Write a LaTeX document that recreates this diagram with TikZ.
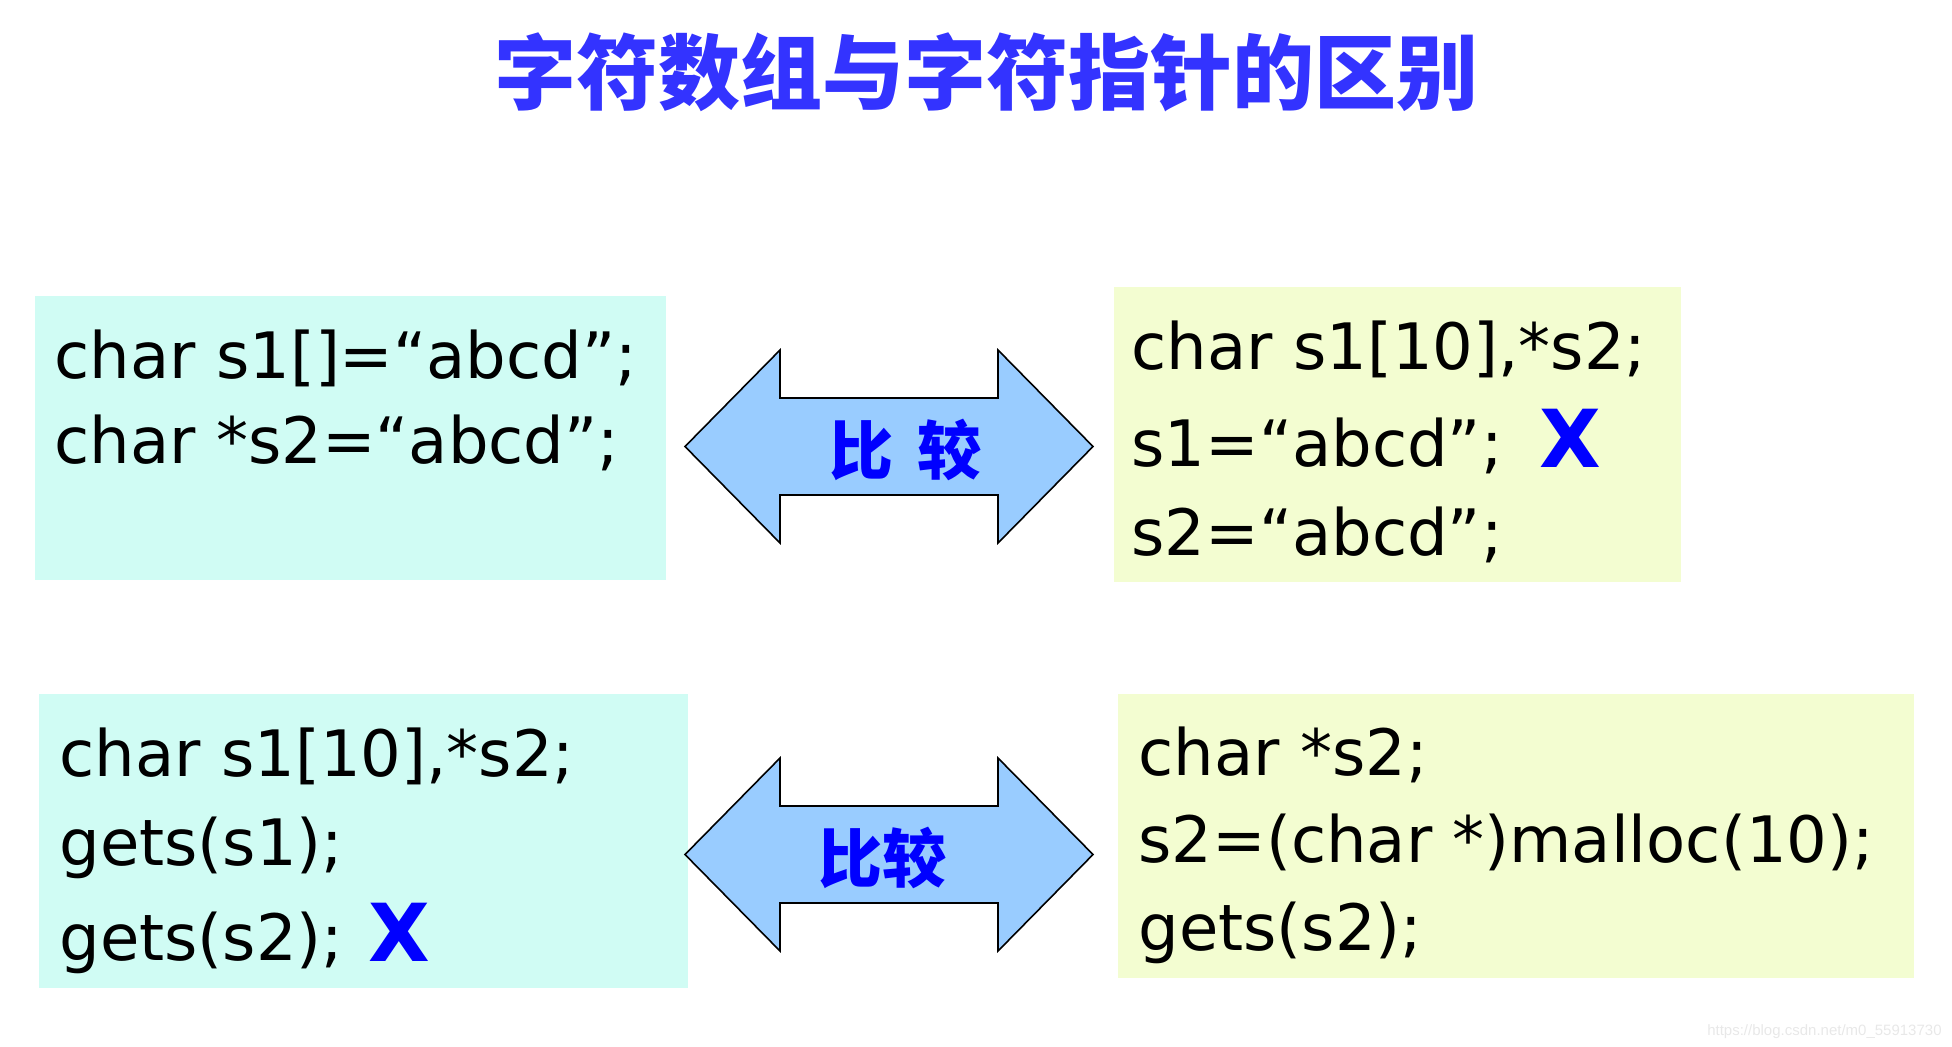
\documentclass[tikz,border=0pt]{standalone}
\usepackage{fontspec}
\setmainfont{DejaVu Sans}
\newfontfamily\cjk{Noto Sans CJK SC}
\newfontfamily\wmfont{Liberation Sans}
\definecolor{lboxc}{HTML}{D0FCF4}
\definecolor{rboxc}{HTML}{F3FDD1}
\definecolor{arrowc}{HTML}{99CCFF}
\definecolor{titlec}{HTML}{3333FF}
\begin{document}
\begin{tikzpicture}[x=0.5pt,y=-0.5pt,
    codeline/.style={anchor=base west,inner sep=0pt,font=\fontsize{32pt}{40pt}\selectfont},
    wrong/.style={anchor=base west,inner sep=0pt,text=blue,font=\fontsize{40pt}{40pt}\selectfont\bfseries},
    cmp/.style={fill=arrowc,draw=black,line width=0.8pt,line join=miter},
    cmplabel/.style={inner sep=0pt,text=blue,font=\cjk\bfseries\fontsize{32pt}{32pt}\selectfont}]
    \useasboundingbox (0,0) rectangle (1952,1046);

    % title
    \node[inner sep=0pt,text=titlec,font=\cjk\bfseries\fontsize{41pt}{41pt}\selectfont] (title) at (986,72) {字符数组与字符指针的区别};

    % boxes
    \fill[lboxc] (35,296) rectangle (666,580);
    \fill[rboxc] (1114,287) rectangle (1681,582);
    \fill[lboxc] (39,694) rectangle (688,988);
    \fill[rboxc] (1118,694) rectangle (1914,978);

    % double arrows
    \foreach \cy in {446.5,854.5}
        \draw[cmp] (685,\cy) -- (780,\cy-96.5) -- (780,\cy-48.5) -- (998,\cy-48.5) -- (998,\cy-96.5)
            -- (1093,\cy) -- (998,\cy+96.5) -- (998,\cy+48.5) -- (780,\cy+48.5) -- (780,\cy+96.5) -- cycle;
    \node[cmplabel] (cmpa) at (905,450) {比\hspace{12pt}较};
    \node[cmplabel] (cmpb) at (882,858) {比较};

    % top left
    \node[codeline] (a1) at (54,378) {char s1[]=“abcd”;};
    \node[codeline] (a2) at (54,463) {char *s2=“abcd”;};

    % top right
    \node[codeline] (b1) at (1131,369) {char s1[10],*s2;};
    \node[codeline] (b2) at (1131,466) {s1=“abcd”;};
    \node[codeline] (b3) at (1131,555) {s2=“abcd”;};
    \node[wrong] (bx) at (1539,467) {X};

    % bottom left
    \node[codeline] (c1) at (59,776) {char s1[10],*s2;};
    \node[codeline] (c2) at (59,865) {gets(s1);};
    \node[codeline] (c3) at (59,960) {gets(s2);};
    \node[wrong] (cx) at (368,961) {X};

    % bottom right
    \node[codeline] (d1) at (1138,775) {char *s2;};
    \node[codeline] (d2) at (1138,862) {s2=(char *)malloc(10);};
    \node[codeline] (d3) at (1138,950) {gets(s2);};

    \node[anchor=base east,inner sep=0pt,text=black!9,font=\wmfont\fontsize{7.5pt}{8pt}\selectfont] (wm) at (1942,1035) {https://blog.csdn.net/m0\_55913730};
\end{tikzpicture}
\end{document}
